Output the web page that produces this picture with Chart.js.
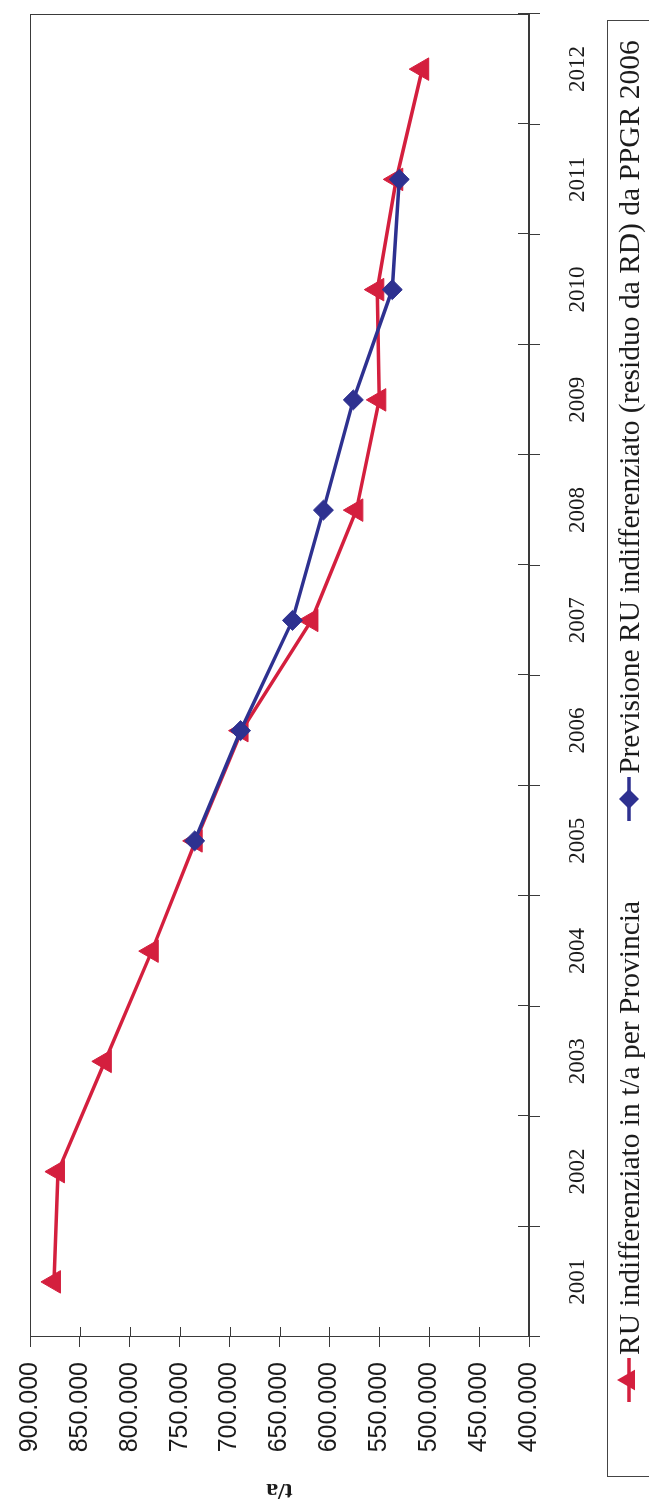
<!DOCTYPE html>
<html>
<head>
<meta charset="utf-8">
<script src="https://cdn.jsdelivr.net/npm/chart.js@4.4.1/dist/chart.umd.min.js"></script>
<style>
  html, body { margin: 0; padding: 0; background: #fff; }
  body { width: 649px; height: 1502px; overflow: hidden; position: relative; }
  /* chart is laid out landscape, then turned a quarter left like the scan */
  #wrap { position: absolute; left: 0; top: 0; width: 1502px; height: 649px; background: #fff;
          transform-origin: 0 0; transform: translate(0, 1502px) rotate(-90deg); }
  #chart { position: absolute; left: 0; top: 0; }
  #legend { position: absolute; left: 25px; top: 607px; width: 1457px; height: 80px; box-sizing: border-box;
            border: 1px solid #444; font-family: 'Liberation Serif', 'Times New Roman', serif;
            font-size: 29.5px; color: #1b1b1b; }
  #legend .row { display: flex; align-items: center; height: 42px; padding-left: 74px; }
  #legend .item { display: flex; align-items: center; white-space: nowrap; }
  #legend .item + .item { margin-left: 80px; }
  #legend svg { margin-right: 3px; }
</style>
</head>
<body>
<div id="wrap">
  <canvas id="chart" width="1502" height="649"></canvas>
  <div id="legend"><div class="row"></div></div>
</div>
<script>
const years = ['2001', '2002', '2003', '2004', '2005', '2006', '2007', '2008', '2009', '2010', '2011', '2012']
const ruProvincia = [876000, 872000, 825000, 778000, 734000, 688000, 618000, 573000, 550000, 552000, 533000, 507000]
const previsionePPGR = [null, null, null, null, 735000, 689000, 637000, 606000, 576000, 537000, 530000, null]
const seriesNames = [
  'RU indifferenziato in t/a per Provincia',
  'Previsione RU indifferenziato (residuo da RD) da PPGR 2006'
]
const yMin = 400000, yMax = 900000, yStep = 50000
const yTitle = 't/a'

const RED = '#d41f3e'
const BLUE = '#2e3190'
const AXIS = '#3a3a3a'
const TXT = '#1b1b1b'
const SERIF = "'Liberation Serif','Times New Roman',serif"
const SANS = "'Liberation Sans',Arial,sans-serif"

// 900000 -> "900.000"
const fmt = v => String(v).replace(/\B(?=(\d{3})+(?!\d))/g, '.')

// Excel style: closed plot frame and tick marks that cross the axis
const frameTicks = {
  id: 'frameTicks',
  beforeDatasetsDraw(chart) {
    const { ctx: c, chartArea: a, scales: { x, y } } = chart
    c.save()
    c.strokeStyle = AXIS
    c.lineWidth = 1
    c.strokeRect(Math.round(a.left) + 0.5, Math.round(a.top) + 0.5, Math.round(a.right - a.left) - 1, Math.round(a.bottom - a.top) - 1)
    c.beginPath()
    y.ticks.forEach(t => {
      const py = Math.round(y.getPixelForValue(t.value)) + 0.5
      c.moveTo(a.left, py); c.lineTo(a.left + 10, py)
    })
    for (let i = 0; i <= years.length; i++) {
      const px = Math.round(x.getPixelForValue(i - 0.5)) + 0.5
      c.moveTo(px, a.bottom); c.lineTo(px, a.bottom - 11)
    }
    c.stroke()
    c.restore()
  }
}

const chart = new Chart(document.getElementById('chart').getContext('2d'), {
  type: 'line',
  plugins: [frameTicks],
  data: {
    labels: years,
    datasets: [
      {
        label: seriesNames[0], data: ruProvincia,
        borderColor: RED, backgroundColor: RED, borderWidth: 3.5,
        pointStyle: 'triangle', pointRadius: 13, pointBorderWidth: 1,
        tension: 0, order: 1
      },
      {
        label: seriesNames[1], data: previsionePPGR,
        borderColor: BLUE, backgroundColor: BLUE, borderWidth: 3.5,
        pointStyle: 'rectRot', pointRadius: 10, pointBorderWidth: 1,
        tension: 0, spanGaps: false, order: 0
      }
    ]
  },
  options: {
    responsive: false,
    animation: false,
    devicePixelRatio: 1,
    layout: { padding: { top: 21, right: 10, bottom: 60, left: 0 } },
    plugins: { legend: { display: false }, tooltip: { enabled: false } },
    scales: {
      x: {
        offset: true,
        grid: { offset: true, drawOnChartArea: false, tickLength: 11, color: AXIS },
        border: { color: AXIS },
        ticks: { padding: 24, color: TXT, font: { family: SERIF, size: 23 }, maxRotation: 0, autoSkip: false },
        afterFit: s => { s.height = 60 }
      },
      y: {
        min: yMin, max: yMax,
        grid: { drawOnChartArea: false, tickLength: 10, color: AXIS },
        border: { color: AXIS },
        ticks: { stepSize: yStep, padding: 15, color: TXT, font: { family: SANS, size: 25 }, callback: v => fmt(v) },
        title: { display: true, text: yTitle, color: TXT, font: { family: SERIF, size: 24, weight: 'bold', lineHeight: 1 }, padding: { top: 0, bottom: 0 } },
        afterFit: s => { s.width = 165 }
      }
    }
  }
})

// legend with line + marker, built from the datasets
function markerSvg(ds) {
  const w = 44, h = 30, cx = 22, cy = 15
  let shape
  if (ds.pointStyle === 'triangle') {
    const r = 12
    shape = `<polygon points="${cx},${cy - r} ${cx + r * 0.866},${cy + r / 2} ${cx - r * 0.866},${cy + r / 2}" fill="${ds.borderColor}"/>`
  } else {
    const r = 10
    shape = `<polygon points="${cx - r},${cy} ${cx},${cy - r} ${cx + r},${cy} ${cx},${cy + r}" fill="${ds.borderColor}"/>`
  }
  return `<svg width="${w}" height="${h}"><line x1="0" y1="${cy}" x2="${w}" y2="${cy}" stroke="${ds.borderColor}" stroke-width="3.5"/>${shape}</svg>`
}
document.querySelector('#legend .row').innerHTML = chart.data.datasets
  .map(ds => `<span class="item">${markerSvg(ds)}<span>${ds.label}</span></span>`).join('')
</script>
</body>
</html>
